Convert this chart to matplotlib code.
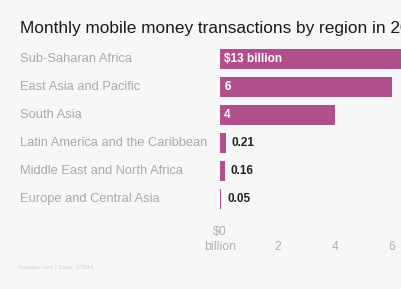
import matplotlib.pyplot as plt

regions = ["Sub-Saharan Africa", "East Asia and Pacific", "South Asia",
           "Latin America and the Caribbean", "Middle East and North Africa",
           "Europe and Central Asia"]
values = [13, 6, 4, 0.21, 0.16, 0.05]
labels = ["$13 billion", "6", "4", "0.21", "0.16", "0.05"]
ticks = [0, 2, 4, 6]
tick_labels = ["$0\nbillion", "2", "4", "6"]

plt.rcParams['font.family'] = ['Liberation Sans', 'DejaVu Sans']
W, H = 402, 289
fig = plt.figure(figsize=(W / 100, H / 100), dpi=100)
fig.patch.set_facecolor("#f7f7f7")

# axis 0 at x=220px, 28.7 px per unit, figure clips the right side
x0 = 220
ppu = 28.7
top, bot = 45, 213
ax = fig.add_axes([x0 / W, 1 - bot / H, (W - x0) / W, (bot - top) / H])
ax.set_facecolor("none")
ax.set_xlim(0, (W - x0) / ppu)
ypos = list(range(len(regions)))
ax.set_ylim(len(regions) - 0.5, -0.5)
ax.barh(ypos, values, height=0.68, color="#b04f8b", clip_on=True)

for i, (v, lab) in enumerate(zip(values, labels)):
    if v > 1:
        ax.text(0.15, i, lab, color="white", fontsize=8.5, fontweight="bold",
                va="center", ha="left")
    else:
        ax.text(v + 0.2, i, lab, color="#222222", fontsize=8.5,
                fontweight="bold", va="center", ha="left")
    fig.text(20 / W, 1 - (top + (i + 0.5) * (bot - top) / len(regions)) / H,
             regions[i], color="#aaaaaa", fontsize=9.3, va="center", ha="left")

for s in ax.spines.values():
    s.set_visible(False)
ax.set_yticks([])
ax.set_xticks(ticks)
ax.set_xticklabels(tick_labels, color="#b0b0b0", fontsize=8.8,
                   linespacing=1.35)
ax.tick_params(axis="x", length=0, pad=29)
for t in ax.get_xticklabels():
    t.set_va("bottom")

fig.text(20 / W, 1 - 28 / H,
         "Monthly mobile money transactions by region in 2015",
         fontsize=12.4, color="#1a1a1a", va="center", ha="left")
fig.text(18 / W, 1 - 268 / H, "theatlas.com | Data: GSMA",
         fontsize=4.5, color="#d0d0d0", va="center", ha="left")

fig.savefig("out.png", dpi=100, facecolor=fig.get_facecolor())
